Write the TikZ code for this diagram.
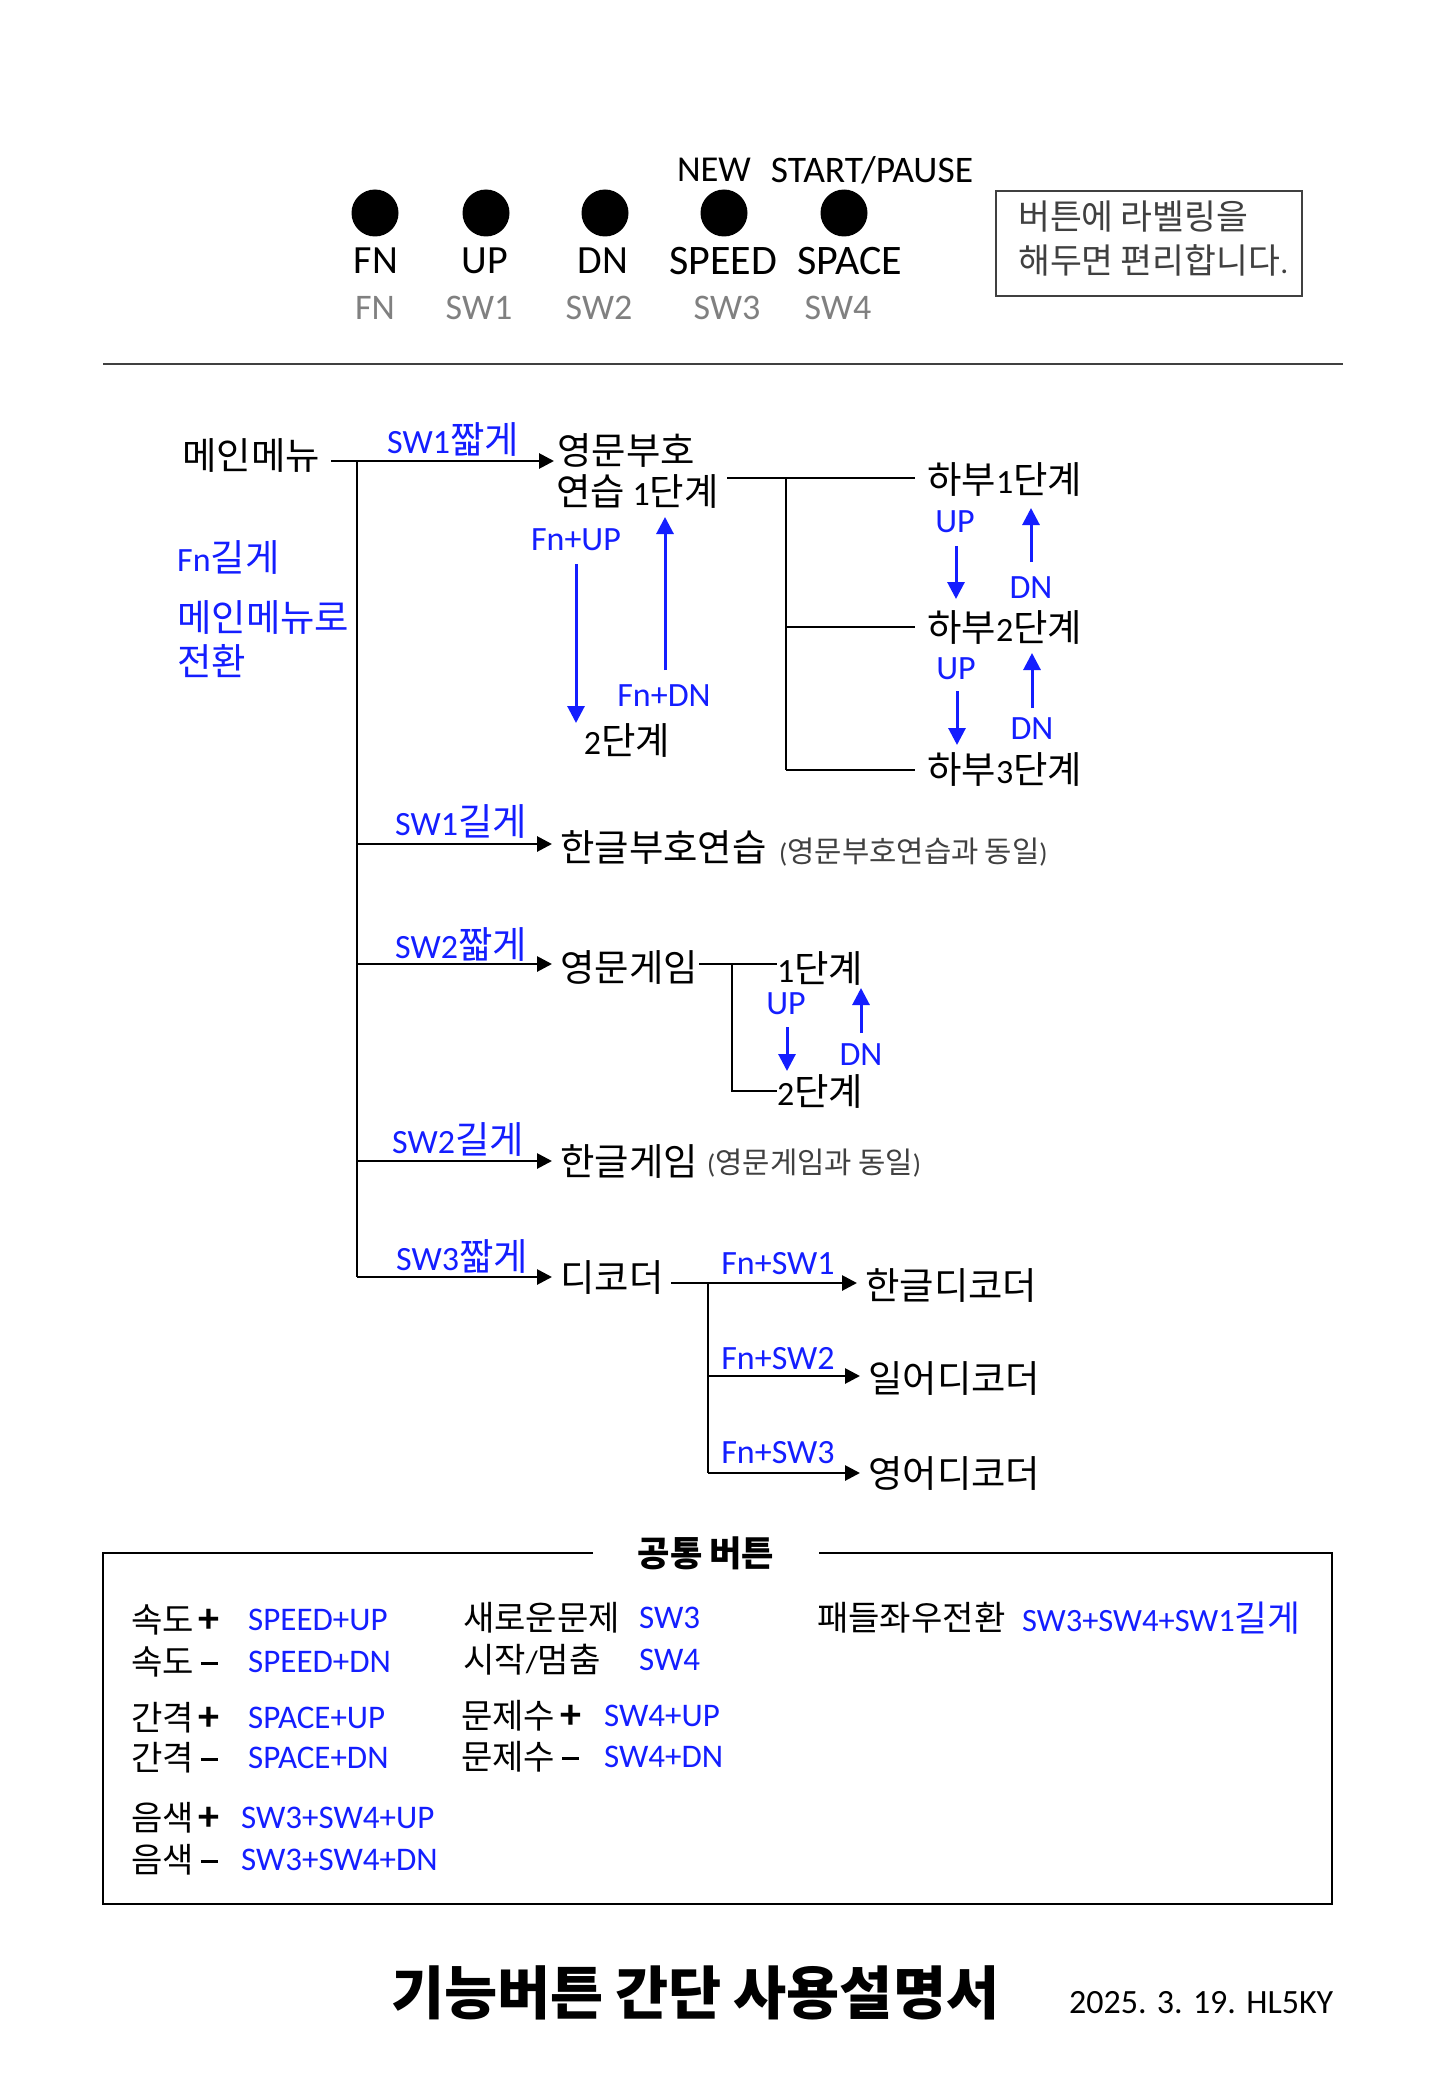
\documentclass[tikz,border=0pt]{standalone}
\usepackage{fontspec}
\usetikzlibrary{arrows.meta}
\setmainfont{Carlito}
\newfontfamily\krfont[Scale=1.1]{Noto Sans CJK KR}
\XeTeXinterchartokenstate=1
\newXeTeXintercharclass\KRclass
\newcount\hcc
\hcc="AC00
\loop\XeTeXcharclass\hcc=\KRclass\advance\hcc by 1\relax\ifnum\hcc<"D7A4\repeat
\XeTeXinterchartoks 0 \KRclass={\begingroup\krfont}
\XeTeXinterchartoks 4095 \KRclass={\begingroup\krfont}
\XeTeXinterchartoks \KRclass 0={\endgroup}
\XeTeXinterchartoks \KRclass 4095={\endgroup}
\definecolor{kblue}{RGB}{20,30,255}
\definecolor{lgray}{RGB}{128,128,128}
\definecolor{dgray}{RGB}{64,64,64}
\newcommand\bplus{\hspace{5pt}{\fontsize{42}{42}\selectfont\bfseries +}}
\newcommand\bminus{\hspace{7pt}\rule[9.5pt]{17pt}{3.4pt}}
\tikzset{
  fs/.style={font=\fontsize{#1}{#1}\selectfont},
  fsb/.style={font=\fontsize{#1}{#1}\selectfont\bfseries},
  txt/.style={inner sep=0pt, anchor=west, fs=34},
  ctxt/.style={inner sep=0pt, fs=34},
  blu/.style={ctxt, text=kblue},
  bluw/.style={txt, text=kblue},
  hdr/.style={inner sep=0pt, fs=40},
  glab/.style={inner sep=0pt, fs=36, text=lgray},
  dotn/.style={circle, fill=black, minimum size=47pt, inner sep=0pt},
  arr/.style={line width=2.8pt, -{Triangle[length=15pt,width=15pt]}, shorten >=8pt},
  ln/.style={line width=2.2pt},
  barr/.style={line width=3pt, draw=kblue, -{Triangle[length=17pt,width=17pt]}},
  small/.style={txt, fs=27, text=dgray},
  bk/.style={txt, fs=31},
  bb/.style={txt, fs=33, text=kblue},
}
\begin{document}
\begin{tikzpicture}[x=1pt,y=-1pt]
\useasboundingbox (0,0) rectangle (1430,2100);
\fill[white] (0,0) rectangle (1430,2100);

% ---------- header ----------
\node[dotn] (d1) at (375,213) {};
\node[dotn] (d2) at (486,213) {};
\node[dotn] (d3) at (605,213) {};
\node[dotn] (d4) at (724,213) {};
\node[dotn] (d5) at (844,213) {};
\node[inner sep=0pt, fs=36.5] (hnew) at (714,170) {NEW};
\node[inner sep=0pt, fs=37.5] (hstart) at (872,170) {START/PAUSE};
\node[hdr] (h1) at (376,261) {FN};
\node[hdr] (h2) at (485,261) {UP};
\node[hdr] (h3) at (603,261) {DN};
\node[hdr, fs=42] (h4) at (723,261) {SPEED};
\node[hdr, fs=42] (h5) at (850,261) {SPACE};
\node[glab] (g1) at (375,308) {FN};
\node[glab] (g2) at (479,308) {SW1};
\node[glab] (g3) at (599,308) {SW2};
\node[glab] (g4) at (727,308) {SW3};
\node[glab] (g5) at (838,308) {SW4};
\node[draw=dgray, line width=2pt, minimum width=306pt, minimum height=105pt] (lbox) at (1149,243.5) {};
\node[txt, fs=31.5, text=dgray] (lb1) at (1018,217) {버튼에 라벨링을};
\node[txt, fs=31.5, text=dgray] (lb2) at (1018,260) {해두면 편리합니다.};
\draw[line width=2pt, dgray] (103,364) -- (1343,364);

% ---------- main tree ----------
\node[txt] (main) at (182,455) {메인메뉴};
\coordinate (m0) at (331,461);
\coordinate (tr0) at (357,461);
\coordinate (tr1) at (357,1277);
\node[txt] (eng1) at (557,450) {영문부호};
\node[txt] (eng2) at (556,491) {연습 1단계};
\draw[arr, shorten >=3pt] (m0) -- (m0 -| eng1.west);
\node[blu] (lsw1s) at (453,439) {SW1짧게};
\draw[line width=2.8pt] (tr0) -- (tr1);

\node[txt] (hb1) at (927,479) {하부1단계};
\node[txt] (hb2) at (927,627) {하부2단계};
\node[txt] (hb3) at (927,769) {하부3단계};
\coordinate (e1) at (727,478);
\coordinate (v1) at (786,478);
\coordinate (v2) at (786,627);
\coordinate (v3) at (786,770);
\draw[ln, shorten >=12pt] (e1) -- (hb1.west |- e1);
\draw[ln] (v1) -- (v3);
\draw[ln, shorten >=12pt] (v2) -- (hb2.west |- v2);
\draw[ln, shorten >=12pt] (v3) -- (hb3.west |- v3);

\node[blu] (up1) at (955,522) {UP};
\node[blu] (dn1) at (1031,588) {DN};
\node[blu] (up2) at (956,669) {UP};
\node[blu] (dn2) at (1032,729) {DN};
\coordinate (u1a) at (956,546); \coordinate (u1b) at (956,599);
\coordinate (n1a) at (1031,562); \coordinate (n1b) at (1031,508);
\coordinate (u2a) at (957,691); \coordinate (u2b) at (957,745);
\coordinate (n2a) at (1032,708); \coordinate (n2b) at (1032,653);
\draw[barr] (u1a) -- (u1b);
\draw[barr] (n1a) -- (n1b);
\draw[barr] (u2a) -- (u2b);
\draw[barr] (n2a) -- (n2b);

\node[blu] (fnup) at (576,540) {Fn+UP};
\node[blu] (fndn) at (664,696) {Fn+DN};
\node[ctxt] (st2) at (627,740) {2단계};
\coordinate (fu1) at (576,564); \coordinate (fu2) at (576,723);
\coordinate (fd1) at (665,670); \coordinate (fd2) at (665,517);
\draw[barr] (fu1) -- (fu2);
\draw[barr] (fd1) -- (fd2);

\node[bluw] (fnl1) at (177,557) {Fn길게};
\node[bluw] (fnl2) at (177,617) {메인메뉴로};
\node[bluw] (fnl3) at (177,661) {전환};

% SW1 long
\node[blu] (lsw1l) at (461,821) {SW1길게};
\node[txt] (hgp) at (560,848) {한글부호연습};
\node[small] (hgpn) at (779,852) {(영문부호연습과 동일)};
\coordinate (b2) at (357,844);
\draw[arr] (b2) -- (b2 -| hgp.west);

% SW2 short
\node[blu] (lsw2s) at (461,944) {SW2짧게};
\node[txt] (eg) at (560,967) {영문게임};
\coordinate (b3) at (357,964);
\draw[arr] (b3) -- (b3 -| eg.west);
\node[txt] (eg1) at (777,968) {1단계};
\node[txt] (eg2) at (777,1091) {2단계};
\coordinate (g0) at (699,964);
\coordinate (gv1) at (732,964);
\coordinate (gv2) at (732,1091);
\draw[ln] (g0) -- (eg1.west |- g0);
\draw[ln] (gv1) -- (gv2) -- (eg2.west |- gv2);
\node[blu] (gup) at (786,1004) {UP};
\node[blu] (gdn) at (861,1055) {DN};
\coordinate (gu1) at (787,1027); \coordinate (gu2) at (787,1071);
\coordinate (gd1) at (861,1033); \coordinate (gd2) at (861,988);
\draw[barr] (gu1) -- (gu2);
\draw[barr] (gd1) -- (gd2);

% SW2 long
\node[blu] (lsw2l) at (458,1139) {SW2길게};
\node[txt] (hg) at (560,1161) {한글게임};
\node[small] (hgn) at (707,1163) {(영문게임과 동일)};
\coordinate (b4) at (357,1161);
\draw[arr] (b4) -- (b4 -| hg.west);

% SW3 short
\node[blu] (lsw3s) at (462,1256) {SW3짧게};
\node[txt] (dec) at (560,1277) {디코더};
\draw[arr] (tr1) -- (tr1 -| dec.west);
\node[txt] (dk1) at (865,1285) {한글디코더};
\node[txt] (dk2) at (868,1378) {일어디코더};
\node[txt] (dk3) at (868,1473) {영어디코더};
\coordinate (c0) at (671,1283);
\coordinate (cv1) at (708,1283);
\coordinate (cv2) at (708,1376);
\coordinate (cv3) at (708,1473);
\draw[arr] (c0) -- (dk1.west |- c0);
\draw[line width=2.8pt] (cv1) -- (cv3);
\draw[arr] (cv2) -- (dk2.west |- cv2);
\draw[arr] (cv3) -- (dk3.west |- cv3);
\node[blu] (fs1) at (778,1264) {Fn+SW1};
\node[blu] (fs2) at (778,1359) {Fn+SW2};
\node[blu] (fs3) at (778,1453) {Fn+SW3};

% ---------- common buttons box ----------
\draw[line width=2.4pt] (593,1553) -- (103,1553) -- (103,1904) -- (1332,1904) -- (1332,1553) -- (819,1553);
\node[inner sep=0pt, fsb=32] (cbt) at (706,1553) {공통 버튼};

\node[bk] (k1) at (131,1620) {속도\bplus};
\node[bk] (k2) at (131,1662) {속도\bminus};
\node[bk] (k3) at (131,1718) {간격\bplus};
\node[bk] (k4) at (131,1758) {간격\bminus};
\node[bk] (k5) at (131,1818) {음색\bplus};
\node[bk] (k6) at (131,1860) {음색\bminus};
\node[bb] (s1) at (248,1620) {SPEED+UP};
\node[bb] (s2) at (248,1662) {SPEED+DN};
\node[bb] (s3) at (248,1718) {SPACE+UP};
\node[bb] (s4) at (248,1758) {SPACE+DN};
\node[bb] (s5) at (241,1818) {SW3+SW4+UP};
\node[bb] (s6) at (241,1860) {SW3+SW4+DN};

\node[bk] (k7) at (463,1618) {새로운문제};
\node[bk] (k8) at (463,1660) {시작/멈춤};
\node[bk] (k9) at (461,1716) {문제수\bplus};
\node[bk] (k10) at (461,1757) {문제수\bminus};
\node[bb] (s7) at (639,1618) {SW3};
\node[bb] (s8) at (639,1660) {SW4};
\node[bb] (s9) at (604,1716) {SW4+UP};
\node[bb] (s10) at (604,1757) {SW4+DN};

\node[bk] (k11) at (817,1618) {패들좌우전환};
\node[bb, fs=32.5] (s11) at (1022,1618) {SW3+SW4+SW1길게};

% ---------- title ----------
\node[txt, fsb=52.5] (title) at (391,1993) {기능버튼 간단 사용설명서};
\node[txt, fs=34] (date) at (1069,2003) {2025. 3. 19. HL5KY};
\end{tikzpicture}
\end{document}
